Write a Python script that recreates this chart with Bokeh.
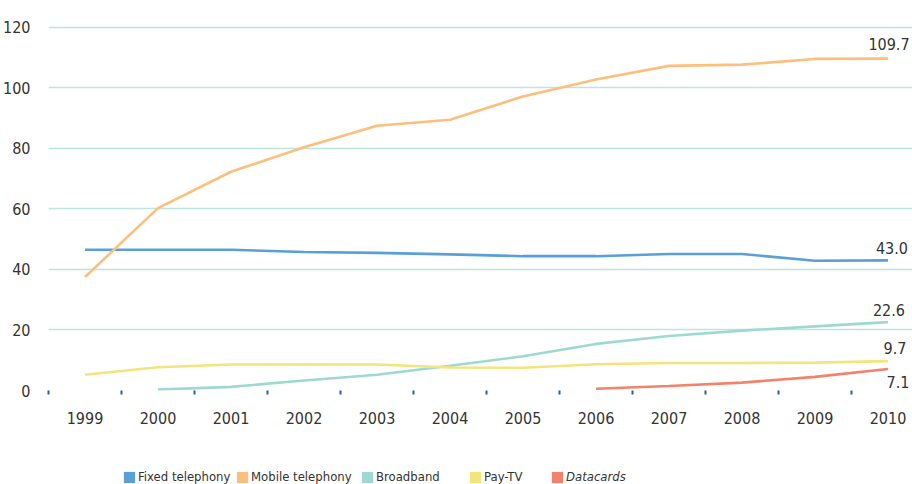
from bokeh.plotting import figure
from bokeh.layouts import column
from bokeh.models import Range1d, FixedTicker, Legend, LegendItem, ColumnDataSource
from bokeh.core.properties import value
from bokeh.embed import file_html
from bokeh.resources import INLINE

years = list(range(1999, 2011))
fixed = [46.5, 46.5, 46.5, 45.8, 45.5, 45.0, 44.4, 44.4, 45.1, 45.1, 42.9, 43.0]
mobile = [37.5, 60.3, 72.3, 80.4, 87.5, 89.5, 97.2, 102.8, 107.3, 107.7, 109.6, 109.7]
bb_years = years[1:]
broadband = [0.3, 1.2, 3.3, 5.2, 8.2, 11.3, 15.4, 18.0, 19.8, 21.2, 22.6]
paytv = [5.2, 7.7, 8.6, 8.6, 8.6, 7.6, 7.5, 8.7, 9.1, 9.1, 9.2, 9.7]
dc_years = years[7:]
datacards = [0.6, 1.5, 2.6, 4.5, 7.1]

names = ["Fixed telephony", "Mobile telephony", "Broadband", "Pay-TV", "Datacards"]
colors = ["#5A9FD6", "#FDBF7C", "#9ED9D1", "#F3E47C", "#F4826A"]
y_ticks = [0, 20, 40, 60, 80, 100, 120]

FONT = "DejaVu Sans Condensed, Roboto, sans-serif"
TXT = "#333333"
FS = "16px"
LEFT = 47

p = figure(width=912, height=450, output_backend="svg", toolbar_location=None,
           x_range=Range1d(1998.5, 2010.336), y_range=Range1d(0, 122.3),
           min_border_left=LEFT, min_border_right=0, min_border_top=20, min_border_bottom=60)
p.outline_line_color = None
p.background_fill_color = "white"

p.xgrid.visible = False
p.ygrid.ticker = FixedTicker(ticks=y_ticks[1:])
p.ygrid.grid_line_color = "#BDE5E0"
p.ygrid.grid_line_width = 1.5

p.yaxis.ticker = FixedTicker(ticks=y_ticks)
p.yaxis.axis_line_color = None
p.yaxis.major_tick_line_color = None
p.yaxis.minor_tick_line_color = None
p.yaxis.major_label_text_font = FONT
p.yaxis.major_label_text_font_size = FS
p.yaxis.major_label_text_color = TXT
p.yaxis.major_label_standoff = 12

boundaries = [y - 0.5 for y in years]
p.xaxis.ticker = FixedTicker(ticks=years, minor_ticks=boundaries)
p.xaxis.axis_line_color = None
p.xaxis.major_tick_line_color = None
p.xaxis.major_tick_out = 0
p.xaxis.major_tick_in = 0
p.xaxis.minor_tick_line_color = "#2D5F8C"
p.xaxis.minor_tick_line_width = 2
p.xaxis.minor_tick_out = 4
p.xaxis.minor_tick_in = 0
p.xaxis.major_label_text_font = FONT
p.xaxis.major_label_text_font_size = FS
p.xaxis.major_label_text_color = TXT
p.xaxis.major_label_standoff = 17

series = [(years, fixed), (years, mobile), (bb_years, broadband), (years, paytv), (dc_years, datacards)]
for (xs, ys), c in zip(series, colors):
    p.line(xs, ys, line_color=c, line_width=2.6)

# end labels
offsets = [-12, -15, -12, -13, 13]
xoffs = [4, 1, 1, 7, 10]
for (xs, ys), oy, ox in zip(series, offsets, xoffs):
    src = ColumnDataSource(dict(x=[xs[-1]], y=[ys[-1]], t=["%.1f" % ys[-1]]))
    p.text(x="x", y="y", text="t", source=src, text_align="center", text_baseline="middle",
           x_offset=ox, y_offset=oy, text_font=value(FONT), text_font_size=FS,
           text_color=TXT)

# legend strip
p2 = figure(width=912, height=34, output_backend="svg", toolbar_location=None,
            x_axis_type=None, y_axis_type=None, x_range=Range1d(0, 1), y_range=Range1d(0, 1),
            min_border_left=LEFT, min_border_right=0, min_border_top=0, min_border_bottom=0)
p2.outline_line_color = None
p2.grid.visible = False
leg_x = [121, 234, 359, 467, 549]
nan = float("nan")
for i, (name, c) in enumerate(zip(names, colors)):
    r = p2.quad(left=[nan], right=[nan], top=[nan], bottom=[nan], fill_color=c, line_color=None)
    leg = Legend(items=[LegendItem(label=name, renderers=[r])], location=(leg_x[i] - LEFT, 0),
                 orientation="horizontal", padding=0, margin=0, spacing=0,
                 border_line_color=None, background_fill_alpha=0,
                 glyph_width=14, glyph_height=14, label_standoff=2, label_height=14,
                 label_text_font=FONT, label_text_font_size="13px", label_text_color=TXT,
                 label_text_font_style="italic" if name == "Datacards" else "normal")
    p2.add_layout(leg, "center")

open("out.html", "w").write(file_html(column(p, p2, spacing=0), INLINE))
